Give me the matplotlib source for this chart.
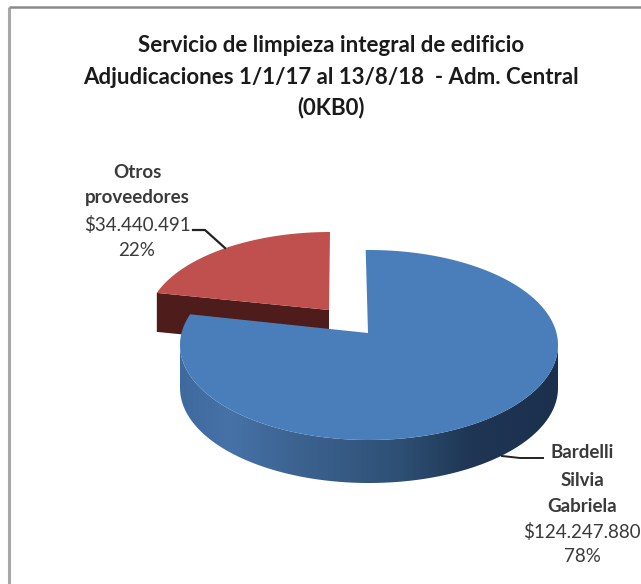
#!/usr/bin/env python3

import numpy as np
import matplotlib
matplotlib.use("Agg")
import matplotlib.pyplot as plt
from matplotlib.patches import Polygon

W, H = 641, 584

title_lines = ["Servicio de limpieza integral de edificio",
               "Adjudicaciones 1/1/17 al 13/8/18  - Adm. Central",
               "(0KB0)"]
nombres_bardelli = ["Bardelli", "Silvia", "Gabriela"]
nombres_otros = ["Otros", "proveedores"]
montos = [124247880, 34440491]
montos_txt = ["$124.247.880", "$34.440.491"]
porcentajes = ["78%", "22%"]

def arc_xy(cx, cy, a, b, t0, t1, n=300):
    # angles clockwise from 12 o'clock
    t = np.radians(np.linspace(t0, t1, n))
    return cx + a * np.sin(t), cy - b * np.cos(t)

plt.rcParams['font.family'] = ['Lato', 'DejaVu Sans']
fig = plt.figure(figsize=(W / 100, H / 100), dpi=100)
ax = fig.add_axes([0, 0, 1, 1])
ax.set_xlim(0, W)
ax.set_ylim(H, 0)
ax.axis("off")

# frame, no right edge in the crop
ax.plot([9, 9], [H, 7], color="#a8a8a8", lw=2.2, solid_capstyle="butt")
ax.plot([9, W], [7, 7], color="#8a8a8a", lw=1.8, solid_capstyle="butt")

# the 3d view skews the slice edge a little
split = 360 * montos[0] / sum(montos) + 7

# red slice
apex_r = (329, 310)
rx, ry = arc_xy(330, 322, 183, 90, split, 360)
dr = 39
side = [(rx[0], ry[0]), apex_r, (apex_r[0], apex_r[1] + dr), (rx[0], ry[0] + dr)]
ax.add_patch(Polygon(side, fc="#4e1c1a", ec="none", zorder=2))
ax.add_patch(Polygon(np.r_[np.c_[rx, ry], [apex_r]], fc="#bf504d", ec="none", zorder=3))

# blue slice
apex_b = (368, 333)
bx, by = arc_xy(369, 345, 189, 95, -1, split)
depth = 43
# outer wall, only the near part shows
fx, fy = arc_xy(369, 345, 189, 95, 90, 270)
wall = Polygon(np.r_[np.c_[fx, fy], np.c_[fx, fy + depth][::-1]], fc="none", ec="none", zorder=4)
ax.add_patch(wall)
grad_x = [180, 230, 300, 400, 470, 558]
grad_r = [0x3f, 0x46, 0x3c, 0x2e, 0x1f, 0x1b]
grad_g = [0x6a, 0x72, 0x62, 0x50, 0x36, 0x30]
grad_b = [0x9e, 0xa8, 0x8f, 0x75, 0x54, 0x4d]
xs = np.linspace(180, 558, 378)
img = np.c_[np.interp(xs, grad_x, grad_r), np.interp(xs, grad_x, grad_g), np.interp(xs, grad_x, grad_b)] / 255
im = ax.imshow(img[None, :, :], extent=[180, 558, H, 0], aspect="auto", zorder=4)
im.set_clip_path(wall)
ax.set_xlim(0, W)
ax.set_ylim(H, 0)
ax.add_patch(Polygon(np.r_[np.c_[bx, by], [apex_b]], fc="#4a7ebb", ec="none", zorder=5))

# title
for line, y in zip(title_lines, [46, 77, 108]):
    ax.text(331, y, line, ha="center", va="center", fontsize=16, fontweight="bold", color="#1a1a1a", zorder=6)

# data labels
lab = dict(ha="center", va="center", fontsize=13.5, color="#3a3a3a", zorder=6)
for txt, y in zip(nombres_otros, [172, 198]):
    ax.text(137, y, txt, fontweight="bold", **lab)
ax.text(137, 225, montos_txt[1], **lab)
ax.text(137, 250, porcentajes[1], **lab)
for txt, y in zip(nombres_bardelli, [453, 480, 507]):
    ax.text(582, y, txt, fontweight="bold", **lab)
ax.text(582, 532, montos_txt[0], **lab)
ax.text(582, 557, porcentajes[0], **lab)

# leader lines
ax.plot([193, 205, 225], [230, 230, 248], color="#222222", lw=1.6, zorder=6)
ax.plot([502, 520, 543], [456, 458, 458], color="#222222", lw=1.4, zorder=6)

fig.savefig("out.png", dpi=100)
